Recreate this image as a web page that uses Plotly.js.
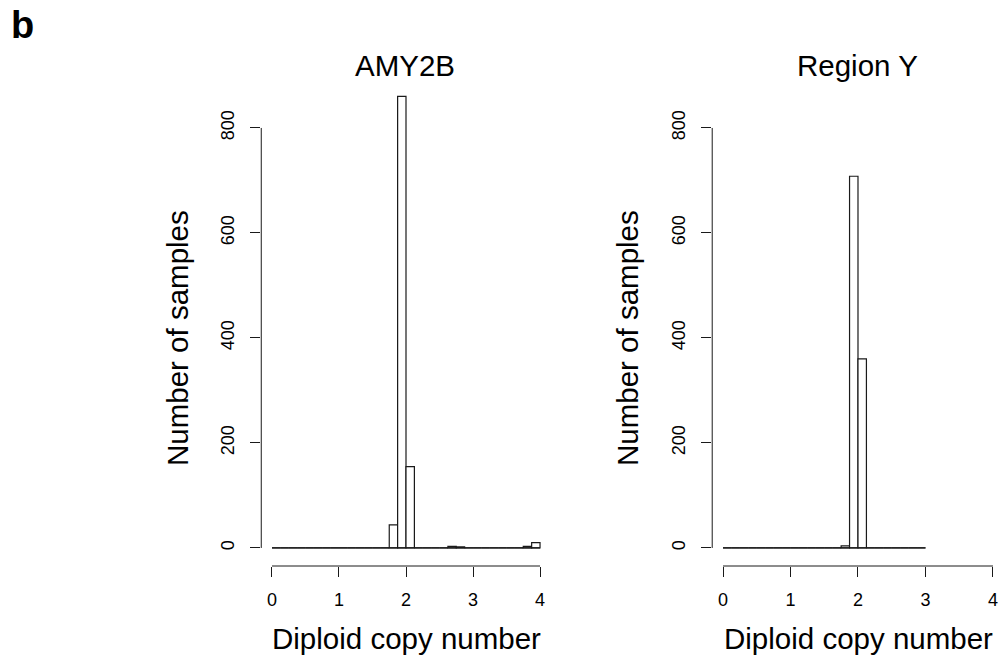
<!DOCTYPE html>
<html>
<head>
<meta charset="utf-8">
<script src="https://cdn.plot.ly/plotly-3.0.1.min.js"></script>
<style>
  html, body { margin: 0; padding: 0; background: #ffffff; }
  #chart { width: 1001px; height: 661px; }
</style>
</head>
<body>
<div id="chart"></div>
<script>
// Histogram bin edges and counts for each copy-number panel
const amyBreaks = [0, 0.125, 0.25, 0.375, 0.5, 0.625, 0.75, 0.875, 1, 1.125, 1.25, 1.375, 1.5, 1.625, 1.75, 1.875,
                   2, 2.125, 2.25, 2.375, 2.5, 2.625, 2.75, 2.875, 3, 3.125, 3.25, 3.375, 3.5, 3.625, 3.75, 3.875, 4];
const amyCounts = [0, 0, 0, 0, 0, 0, 0, 0, 0, 0, 0, 0, 0, 0, 44, 860,
                   155, 0, 0, 0, 0, 3, 2, 0, 0, 0, 0, 0, 0, 0, 3, 10];

const regionBreaks = [0, 0.125, 0.25, 0.375, 0.5, 0.625, 0.75, 0.875, 1, 1.125, 1.25, 1.375, 1.5, 1.625, 1.75, 1.875,
                      2, 2.125, 2.25, 2.375, 2.5, 2.625, 2.75, 2.875, 3];
const regionCounts = [0, 0, 0, 0, 0, 0, 0, 0, 0, 0, 0, 0, 0, 0, 4, 708,
                      360, 0, 0, 0, 0, 0, 0, 0];

const panelTitles = ["AMY2B", "Region Y"];
const xTitle = "Diploid copy number";
const yTitle = "Number of samples";
const xTickValues = [0, 1, 2, 3, 4];
const yTickValues = [0, 200, 400, 600, 800];

const W = 1001, H = 661;
const px = v => v / W;
const py = v => 1 - v / H;

function centres(breaks) {
  return breaks.slice(0, -1).map((b, i) => (b + breaks[i + 1]) / 2);
}
function widths(breaks) {
  return breaks.slice(0, -1).map((b, i) => breaks[i + 1] - b);
}

function histTraces(breaks, counts, xa, ya) {
  return [
    {
      type: 'bar',
      x: centres(breaks),
      y: counts,
      width: widths(breaks),
      xaxis: xa, yaxis: ya,
      marker: { color: '#ffffff', line: { color: '#1a1a1a', width: 1.2 } },
      hoverinfo: 'x+y'
    },
    {
      // baseline spanning the full break range
      type: 'scatter', mode: 'lines',
      x: [breaks[0], breaks[breaks.length - 1]],
      y: [0, 0],
      xaxis: xa, yaxis: ya,
      line: { color: '#1a1a1a', width: 1.2 },
      hoverinfo: 'skip'
    }
  ];
}

const data = [
  ...histTraces(amyBreaks, amyCounts, 'x', 'y'),
  ...histTraces(regionBreaks, regionCounts, 'x2', 'y2')
];

const fontFamily = 'Liberation Sans, Arial, Helvetica, sans-serif';
const tickFont = { family: fontFamily, size: 18, color: '#000' };

function xAxis(domain, range, anchor) {
  return {
    domain: domain, range: range, anchor: anchor,
    tickvals: xTickValues, ticktext: xTickValues.map(String),
    ticks: 'outside', ticklen: 10, tickwidth: 1, tickcolor: '#1a1a1a',
    ticklabelstandoff: 7,
    showline: false, zeroline: false, showgrid: false,
    tickfont: tickFont, fixedrange: true
  };
}
function yAxis(domain, range, anchor) {
  return {
    domain: domain, range: range, anchor: anchor,
    tickvals: yTickValues, ticktext: yTickValues.map(String),
    tickangle: -90,
    ticks: 'outside', ticklen: 10, tickwidth: 1, tickcolor: '#1a1a1a',
    ticklabelstandoff: 9,
    showline: false, zeroline: false, showgrid: false,
    tickfont: tickFont, fixedrange: true
  };
}

const yDomain = [0.1437, 0.8814];
const yRange = [-34.4, 894.4];

const axisLine = { color: '#1a1a1a', width: 1 };
const shapes = [
  { type: 'line', xref: 'x domain', yref: 'y', x0: 0, x1: 0, y0: yTickValues[0], y1: yTickValues[yTickValues.length - 1], line: axisLine },
  { type: 'line', xref: 'x', yref: 'y domain', x0: xTickValues[0], x1: xTickValues[xTickValues.length - 1], y0: 0, y1: 0, line: axisLine },
  { type: 'line', xref: 'x2 domain', yref: 'y2', x0: 0, x1: 0, y0: yTickValues[0], y1: yTickValues[yTickValues.length - 1], line: axisLine },
  { type: 'line', xref: 'x2', yref: 'y2 domain', x0: xTickValues[0], x1: xTickValues[xTickValues.length - 1], y0: 0, y1: 0, line: axisLine }
];

const titleFont = { family: fontFamily, size: 29.5, color: '#000' };
const annotations = [
  { text: '<b>b</b>', x: px(9), y: py(25), xanchor: 'left', yanchor: 'middle', font: { family: fontFamily, size: 38, color: '#000' } },
  { text: panelTitles[0], x: px(405), y: py(66), xanchor: 'center', yanchor: 'middle', font: titleFont },
  { text: panelTitles[1], x: px(857), y: py(66), xanchor: 'center', yanchor: 'middle', font: titleFont },
  { text: xTitle, x: px(406), y: py(638), xanchor: 'center', yanchor: 'middle', font: titleFont },
  { text: xTitle, x: px(858), y: py(638), xanchor: 'center', yanchor: 'middle', font: titleFont },
  { text: yTitle, x: px(177), y: py(338), xanchor: 'center', yanchor: 'middle', textangle: -90, font: titleFont },
  { text: yTitle, x: px(627), y: py(338), xanchor: 'center', yanchor: 'middle', textangle: -90, font: titleFont }
].map(a => Object.assign({ xref: 'paper', yref: 'paper', showarrow: false }, a));

const layout = {
  width: W, height: H,
  margin: { l: 0, r: 0, t: 0, b: 0, pad: 0 },
  paper_bgcolor: '#ffffff', plot_bgcolor: '#ffffff',
  showlegend: false,
  font: { family: fontFamily, color: '#000' },
  barmode: 'overlay',
  xaxis: xAxis([0.2610, 0.5502], [-0.16, 4.16], 'y'),
  yaxis: yAxis(yDomain, yRange, 'x'),
  xaxis2: xAxis([0.7115, 1.0], [-0.16, 4.119], 'y2'),
  yaxis2: yAxis(yDomain, yRange, 'x2'),
  shapes: shapes,
  annotations: annotations
};

Plotly.newPlot('chart', data, layout, { displayModeBar: false, staticPlot: true });
</script>
</body>
</html>
